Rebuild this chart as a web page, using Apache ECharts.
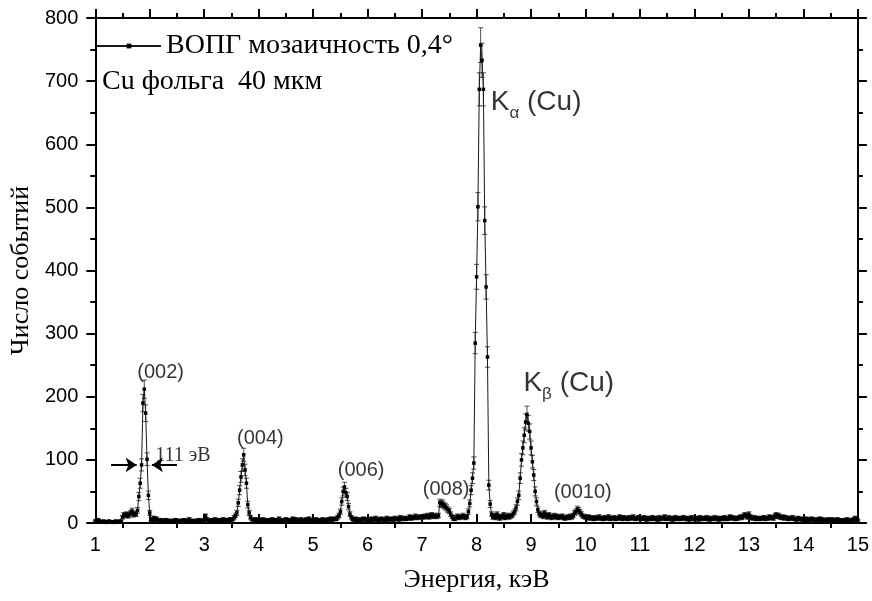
<!DOCTYPE html>
<html>
<head>
<meta charset="utf-8">
<script src="https://cdn.jsdelivr.net/npm/echarts@6/dist/echarts.min.js"></script>
<style>
html,body{margin:0;padding:0;background:#ffffff;}
#chart{width:872px;height:601px;}
</style>
</head>
<body>
<div id="chart"></div>
<script>
// ---- Data ----
const energyStart = 1.0;    // keV, first channel
const energyStep = 0.025;   // keV per channel
const seriesName = 'ВОПГ мозаичность 0,4°';
const sampleNote = 'Cu фольга  40 мкм';
const xAxisTitle = 'Энергия, кэВ';
const yAxisTitle = 'Число событий';
const xTickMin = 1, xTickMax = 15, xTickStep = 1;
const yTickMin = 0, yTickMax = 800, yTickStep = 100;

// counts per channel, one row per keV (40 channels each)
const counts01 = [3,4,5,3,2,2,3,2,1,2, 3,2,2,1,2,3,2,2,3,2, 9,13,12,14,11,13,16,19,13,15, 14,20,42,63,92,190,212,174,101,44];
const counts02 = [16,6,4,8,5,7,4,3,5,4, 3,4,5,3,4,2,3,4,3,5, 4,3,2,4,3,5,4,3,4,6, 3,4,3,2,4,3,5,4,3,4];
const counts03 = [5,11,6,3,4,5,3,4,6,4, 3,5,4,4,6,3,5,4,5,6, 5,6,9,12,16,32,52,73,92,108, 84,63,29,16,9,6,5,4,6,5];
const counts04 = [4,5,3,6,4,5,3,4,5,4, 6,3,5,4,4,7,5,3,4,5, 6,4,5,3,5,7,4,6,5,4, 5,6,4,3,5,6,4,7,5,4];
const counts05 = [5,4,6,5,4,3,5,6,4,5, 4,6,5,7,5,6,7,6,9,12, 18,34,50,57,48,42,26,14,9,6, 5,7,4,6,5,4,6,7,5,6];
const counts06 = [5,6,4,7,5,6,8,5,4,6, 7,5,6,4,8,6,5,7,6,5, 8,6,7,5,9,6,7,8,6,7, 8,10,7,9,8,11,9,8,10,9];
const counts07 = [10,9,11,10,12,9,11,13,10,12, 11,10,12,32,30,31,28,26,24,21, 19,14,10,7,6,9,11,8,10,9, 12,10,8,10,18,31,52,71,95,285];
const counts08 = [390,501,687,757,733,687,479,374,263,60, 30,14,9,12,8,14,10,7,11,9, 13,8,10,12,9,11,12,15,18,24, 34,44,71,100,119,139,160,172,158,145];
const counts09 = [119,97,76,50,34,21,15,12,14,10, 16,12,9,13,11,8,10,12,9,11, 8,10,9,11,8,7,9,10,8,11, 9,12,16,18,22,20,17,14,11,10];
const counts10 = [9,8,10,7,9,8,6,9,7,8, 10,7,8,6,9,7,8,10,6,8, 7,9,6,8,7,10,8,6,9,7, 8,6,9,7,8,10,7,6,8,9];
const counts11 = [7,8,6,9,7,5,8,6,7,9, 6,8,7,5,9,6,8,7,10,6, 7,9,6,8,5,7,9,6,8,7, 6,8,9,7,6,8,5,7,9,6];
const counts12 = [6,8,7,5,9,6,7,8,6,9, 7,5,8,6,7,9,6,8,5,7, 8,6,9,7,6,8,10,7,9,8, 6,8,7,9,10,8,11,13,12,9];
const counts13 = [14,10,8,7,9,6,8,7,6,8, 7,9,6,8,7,10,8,9,7,11, 13,10,12,9,8,10,7,9,8,6, 8,7,9,6,7,5,8,6,7,5];
const counts14 = [6,5,7,4,6,5,7,6,4,5, 6,4,7,5,6,4,5,3,6,5, 4,6,3,5,4,6,5,3,4,5, 3,4,6,4,3,5,4,6,8,5, 4];

const peakLabelTexts = ['(002)', '(004)', '(006)', '(008)', '(0010)'];
const fwhmText = '111 эВ';

// ---- Build series data ----
const allCounts = [].concat(counts01, counts02, counts03, counts04, counts05, counts06, counts07,
  counts08, counts09, counts10, counts11, counts12, counts13, counts14);
const spectrum = allCounts.map((c, i) => [+(energyStart + i * energyStep).toFixed(4), c]);
// Poisson error bars (±sqrt(N))
const errorBars = spectrum.map(p => [p[0], p[1] - Math.sqrt(p[1]), p[1] + Math.sqrt(p[1])]);
const halfTicks = [];
for (let v = xTickMin + xTickStep / 2; v < xTickMax; v += xTickStep) halfTicks.push(v);

const SANS = 'Liberation Sans, Arial, sans-serif';
const SERIF = 'Liberation Serif, Times New Roman, serif';

const chart = echarts.init(document.getElementById('chart'), null, {renderer: 'canvas'});

const annotation = (x, y, text, opts) => ({
  value: [x, y],
  label: Object.assign({
    show: true, position: 'inside', formatter: text,
    color: '#000', fontFamily: SANS, fontSize: 20
  }, opts || {})
});

const option = {
  animation: false,
  backgroundColor: '#ffffff',
  grid: {left: 91, right: 12, top: 18, bottom: 78, containLabel: false},
  title: {
    text: sampleNote, left: 97, top: 63,
    textStyle: {fontFamily: SERIF, fontSize: 28, fontWeight: 'normal', color: '#000'}
  },
  legend: {
    data: [seriesName], left: 91, top: 27, itemWidth: 64, itemHeight: 6, itemGap: 6,
    textStyle: {fontFamily: SERIF, fontSize: 28, color: '#000'}
  },
  xAxis: [
    {
      type: 'value', position: 'bottom', min: xTickMin, max: xTickMax, interval: xTickStep,
      name: xAxisTitle, nameLocation: 'middle', nameGap: 44,
      nameTextStyle: {fontFamily: SERIF, fontSize: 26, color: '#000'},
      axisLine: {show: true, onZero: false, lineStyle: {color: '#000', width: 2}},
      axisTick: {show: true, inside: true, length: 9, lineStyle: {color: '#000', width: 2}},
      minorTick: {show: false},
      splitLine: {show: false},
      axisLabel: {color: '#000', fontFamily: SANS, fontSize: 20, margin: 12}
    },
    {
      type: 'value', position: 'bottom', min: xTickMin, max: xTickMax,
      axisLine: {show: false, onZero: false},
      axisTick: {show: true, inside: false, length: 5, customValues: halfTicks, lineStyle: {color: '#000', width: 2}},
      axisLabel: {show: false},
      splitLine: {show: false}
    },
    {
      type: 'value', position: 'top', min: xTickMin, max: xTickMax, interval: xTickStep,
      axisLine: {show: true, onZero: false, lineStyle: {color: '#000', width: 2}},
      axisTick: {show: true, inside: false, length: 9, lineStyle: {color: '#000', width: 2}},
      minorTick: {show: true, splitNumber: 2, length: 5, lineStyle: {color: '#000', width: 2}},
      axisLabel: {show: false},
      splitLine: {show: false}
    }
  ],
  yAxis: [
    {
      type: 'value', position: 'left', min: yTickMin, max: yTickMax, interval: yTickStep,
      name: yAxisTitle, nameLocation: 'middle', nameGap: 56, nameRotate: 90,
      nameTextStyle: {fontFamily: SERIF, fontSize: 26, color: '#000'},
      axisLine: {show: true, onZero: false, lineStyle: {color: '#000', width: 2}},
      axisTick: {show: true, inside: false, length: 9, lineStyle: {color: '#000', width: 2}},
      minorTick: {show: true, splitNumber: 2, length: 5, lineStyle: {color: '#000', width: 2}},
      splitLine: {show: false},
      axisLabel: {color: '#000', fontFamily: SANS, fontSize: 20, margin: 17}
    },
    {
      type: 'value', position: 'right', min: yTickMin, max: yTickMax, interval: yTickStep,
      axisLine: {show: true, onZero: false, lineStyle: {color: '#000', width: 2}},
      axisTick: {show: true, inside: false, length: 9, lineStyle: {color: '#000', width: 2}},
      minorTick: {show: true, splitNumber: 2, length: 5, lineStyle: {color: '#000', width: 2}},
      splitLine: {show: false},
      axisLabel: {show: false}
    }
  ],
  series: [
    {
      name: 'errors', type: 'custom', xAxisIndex: 0, yAxisIndex: 0,
      data: errorBars, encode: {x: 0, y: [1, 2]}, silent: true, z: 2,
      renderItem: function (params, api) {
        const x = api.value(0);
        const lo = api.coord([x, api.value(1)]);
        const hi = api.coord([x, api.value(2)]);
        const cap = 2.5;
        const st = {stroke: '#222', lineWidth: 0.8};
        return {
          type: 'group',
          children: [
            {type: 'line', shape: {x1: lo[0], y1: lo[1], x2: hi[0], y2: hi[1]}, style: st},
            {type: 'line', shape: {x1: lo[0] - cap, y1: lo[1], x2: lo[0] + cap, y2: lo[1]}, style: st},
            {type: 'line', shape: {x1: hi[0] - cap, y1: hi[1], x2: hi[0] + cap, y2: hi[1]}, style: st}
          ]
        };
      }
    },
    {
      name: seriesName, type: 'line', xAxisIndex: 0, yAxisIndex: 0,
      data: spectrum, showSymbol: true, showAllSymbol: true,
      symbol: 'rect', symbolSize: 3.5,
      itemStyle: {color: '#000'},
      lineStyle: {color: '#1a1a1a', width: 1},
      z: 3,
      markLine: {
        silent: true, symbol: ['none', 'arrow'], symbolSize: 11,
        label: {show: false},
        lineStyle: {color: '#000', width: 2, type: 'solid'},
        data: [
          [{coord: [1.29, 92]}, {coord: [1.76, 92]}],
          [{coord: [2.50, 92]}, {coord: [2.04, 92]}]
        ]
      }
    },
    {
      name: 'labels', type: 'scatter', xAxisIndex: 0, yAxisIndex: 0,
      symbolSize: 1, itemStyle: {color: 'rgba(0,0,0,0)'}, silent: true, z: 5,
      data: [
        annotation(2.20, 238, peakLabelTexts[0]),
        annotation(4.03, 134, peakLabelTexts[1]),
        annotation(5.88, 83, peakLabelTexts[2]),
        annotation(7.44, 53, peakLabelTexts[3]),
        annotation(9.95, 48, peakLabelTexts[4]),
        annotation(2.10, 106, fwhmText, {align: 'left', fontFamily: SERIF, fontSize: 20}),
        annotation(8.26, 667, '{k|K}{s|α}{k| (Cu)}', {
          align: 'left',
          rich: {
            k: {fontFamily: SANS, fontSize: 28, color: '#000', lineHeight: 40, verticalAlign: 'middle'},
            s: {fontFamily: SANS, fontSize: 17, color: '#000', lineHeight: 16, verticalAlign: 'bottom'}
          }
        }),
        annotation(8.86, 222, '{k|K}{s|β}{k| (Cu)}', {
          align: 'left',
          rich: {
            k: {fontFamily: SANS, fontSize: 28, color: '#000', lineHeight: 40, verticalAlign: 'middle'},
            s: {fontFamily: SANS, fontSize: 17, color: '#000', lineHeight: 16, verticalAlign: 'bottom'}
          }
        })
      ]
    }
  ]
};
chart.setOption(option);
</script>
</body>
</html>
